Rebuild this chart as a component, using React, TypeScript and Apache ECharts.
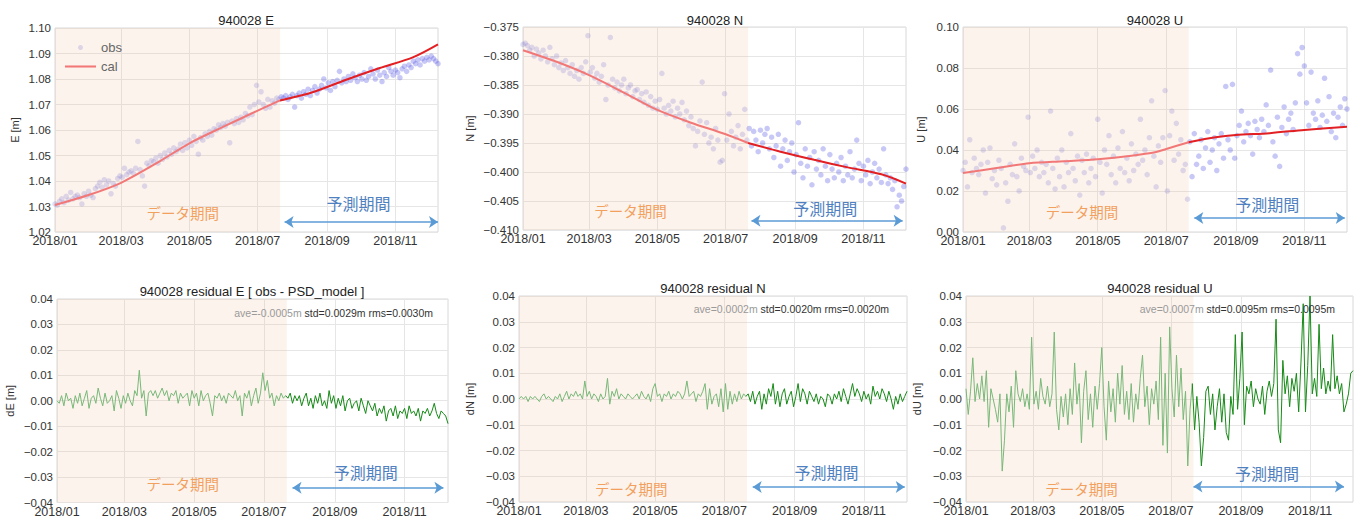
import React, { useEffect, useRef } from "react";
import * as echarts from "echarts";

// ---------- data ----------
const N_DAYS = 343; // 2018/01/01 .. 2018/12/09
const SPLIT_DAY = 201; // end of data period (2018/07/21)
const OBS_STEP = 2;
const RES_STEP = 2;

const obsE = [
  1.0310, 1.0305, 1.0320, 1.0330, 1.0315, 1.0340, 1.0325, 1.0355, 1.0330, 1.0340,
  1.0345, 1.0335, 1.0310, 1.0350, 1.0340, 1.0360, 1.0345, 1.0335, 1.0370, 1.0380,
  1.0395, 1.0375, 1.0405, 1.0385, 1.0400, 1.0350, 1.0390, 1.0380, 1.0410, 1.0420,
  1.0415, 1.0450, 1.0425, 1.0435, 1.0440, 1.0430, 1.0450, 1.0555, 1.0445, 1.0420,
  1.0380, 1.0470, 1.0460, 1.0480, 1.0475, 1.0490, 1.0470, 1.0500, 1.0485, 1.0510,
  1.0495, 1.0520, 1.0505, 1.0530, 1.0515, 1.0525, 1.0545, 1.0520, 1.0550, 1.0530,
  1.0560, 1.0540, 1.0575, 1.0555, 1.0505, 1.0570, 1.0560, 1.0585, 1.0575, 1.0595,
  1.0580, 1.0605, 1.0600, 1.0620, 1.0610, 1.0625, 1.0615, 1.0630, 1.0550, 1.0635,
  1.0625, 1.0645, 1.0630, 1.0650, 1.0640, 1.0665, 1.0655, 1.0690, 1.0660, 1.0700,
  1.0775, 1.0710, 1.0750, 1.0700, 1.0685, 1.0720, 1.0690, 1.0715, 1.0705, 1.0725,
  1.0720,
  1.0730, 1.0725, 1.0735, 1.0720, 1.0730, 1.0740, 1.0690, 1.0735, 1.0745, 1.0725,
  1.0750, 1.0740, 1.0760, 1.0735, 1.0755, 1.0770, 1.0745, 1.0760, 1.0775, 1.0800,
  1.0765, 1.0785, 1.0755, 1.0790, 1.0770, 1.0795, 1.0830, 1.0785, 1.0800, 1.0790,
  1.0810, 1.0795, 1.0820, 1.0805, 1.0790, 1.0815, 1.0800, 1.0825, 1.0795, 1.0810,
  1.0840, 1.0820, 1.0800, 1.0835, 1.0815, 1.0790, 1.0825, 1.0810, 1.0845, 1.0830,
  1.0815, 1.0835, 1.0825, 1.0805, 1.0840, 1.0850, 1.0830, 1.0855, 1.0845, 1.0870,
  1.0860, 1.0875, 1.0855, 1.0880, 1.0870, 1.0885, 1.0875, 1.0890, 1.0880, 1.0870,
  1.0860,
];

const obsN = [
  -0.3780, -0.3778, -0.3782, -0.3790, -0.3785, -0.3800, -0.3788, -0.3795, -0.3805, -0.3790,
  -0.3800, -0.3810, -0.3785, -0.3805, -0.3815, -0.3800, -0.3820, -0.3812, -0.3825, -0.3808,
  -0.3820, -0.3830, -0.3815, -0.3835, -0.3825, -0.3840, -0.3820, -0.3830, -0.3810, -0.3765,
  -0.3828, -0.3820, -0.3838, -0.3830, -0.3845, -0.3835, -0.3815, -0.3875, -0.3850, -0.3768,
  -0.3840, -0.3855, -0.3845, -0.3860, -0.3850, -0.3840, -0.3865, -0.3855, -0.3850, -0.3870,
  -0.3860, -0.3858, -0.3875, -0.3865, -0.3880, -0.3862, -0.3885, -0.3870, -0.3890, -0.3878,
  -0.3892, -0.3875, -0.3830, -0.3890, -0.3900, -0.3885, -0.3895, -0.3878, -0.3905, -0.3890,
  -0.3900, -0.3880, -0.3910, -0.3895, -0.3920, -0.3905, -0.3925, -0.3955, -0.3930, -0.3912,
  -0.3845, -0.3935, -0.3915, -0.3950, -0.3940, -0.3960, -0.3925, -0.3945, -0.3983, -0.3980,
  -0.3865, -0.3945, -0.3900, -0.3930, -0.3955, -0.3940, -0.3920, -0.3960, -0.3935, -0.3892,
  -0.3945,
  -0.3925, -0.3955, -0.3930, -0.3945, -0.3965, -0.3928, -0.3950, -0.3935, -0.3925, -0.3960,
  -0.3940, -0.3975, -0.3955, -0.3935, -0.3990, -0.3960, -0.3945, -0.3980, -0.3965, -0.3950,
  -0.4000, -0.3970, -0.3915, -0.3985, -0.4010, -0.3960, -0.3990, -0.3975, -0.4022, -0.3965,
  -0.3995, -0.3980, -0.4005, -0.3960, -0.3990, -0.4015, -0.3970, -0.3995, -0.4010, -0.3985,
  -0.4000, -0.3975, -0.4015, -0.3990, -0.4005, -0.3965, -0.4010, -0.3995, -0.3945, -0.3985,
  -0.4015, -0.3990, -0.4005, -0.3980, -0.4020, -0.4000, -0.3985, -0.4010, -0.3995, -0.4018,
  -0.3960, -0.4005, -0.4020, -0.4010, -0.4030, -0.4015, -0.4060, -0.4040, -0.4050, -0.4025,
  -0.3995,
];

const obsU = [
  0.030, 0.034, 0.022, 0.045, 0.029, 0.036, 0.031, 0.028, 0.033, 0.040,
  0.019, 0.034, 0.041, 0.026, 0.030, 0.023, 0.035, 0.031, 0.002, 0.024,
  0.015, 0.033, 0.028, 0.043, 0.027, 0.020, 0.036, 0.032, 0.030, 0.056,
  0.029, 0.037, 0.031, 0.040, 0.027, 0.034, 0.029, 0.033, 0.024, 0.059,
  0.031, 0.021, 0.036, 0.027, 0.040, 0.022, 0.034, 0.029, 0.048, 0.031,
  0.025, 0.037, 0.018, 0.035, 0.029, 0.038, 0.024, 0.031, 0.036, 0.027,
  0.055, 0.034, 0.019, 0.040, 0.033, 0.047, 0.028, 0.037, 0.024, 0.041,
  0.031, 0.049, 0.029, 0.036, 0.025, 0.043, 0.030, 0.038, 0.033, 0.055,
  0.035, 0.040, 0.028, 0.046, 0.064, 0.037, 0.022, 0.042, 0.034, 0.046,
  0.069, 0.020, 0.047, 0.059, 0.035, 0.053, 0.038, 0.045, 0.030, 0.033,
  0.016,
  0.044, 0.027, 0.048, 0.033, 0.037, 0.045, 0.031, 0.041, 0.049, 0.034,
  0.040, 0.046, 0.030, 0.043, 0.048, 0.036, 0.071, 0.045, 0.040, 0.072,
  0.036, 0.047, 0.052, 0.059, 0.044, 0.049, 0.053, 0.047, 0.038, 0.054,
  0.050, 0.046, 0.055, 0.049, 0.062, 0.052, 0.079, 0.044, 0.037, 0.056,
  0.032, 0.051, 0.061, 0.048, 0.055, 0.058, 0.050, 0.063, 0.087, 0.077,
  0.090, 0.081, 0.063, 0.052, 0.078, 0.058, 0.055, 0.064, 0.051, 0.057,
  0.075, 0.054, 0.066, 0.049, 0.058, 0.046, 0.056, 0.061, 0.052, 0.065,
  0.060,
];

const calDaysE = [0, 30, 59, 90, 120, 150, 181, 201, 230, 260, 290, 320, 342];
const calE = [1.0306, 1.0345, 1.0393, 1.0468, 1.0548, 1.0612, 1.0676, 1.0716, 1.0748, 1.0797, 1.0843, 1.0886, 1.0936];
const calDaysN = [0, 30, 59, 90, 120, 150, 181, 201, 230, 260, 290, 320, 342];
const calN = [-0.3790, -0.3810, -0.3833, -0.3863, -0.3893, -0.3915, -0.3935, -0.3950, -0.3965, -0.3979, -0.3992, -0.4004, -0.4020];
const calDaysU = [0, 30, 59, 90, 120, 150, 172, 181, 201, 225, 243, 273, 304, 342];
const calU = [0.0288, 0.0312, 0.0335, 0.0345, 0.0355, 0.0372, 0.0390, 0.0405, 0.0438, 0.0462, 0.0473, 0.0482, 0.0498, 0.0514];

const resE = [
  0.000, -0.001, 0.002, -0.002, 0.003, 0.000, 0.001, -0.003, 0.002, -0.001,
  0.003, -0.002, 0.001, 0.004, -0.003, 0.001, 0.002, -0.001, 0.005, 0.001,
  -0.002, 0.003, -0.001, 0.000, 0.002, -0.004, 0.004, 0.001, -0.003, 0.002,
  -0.001, 0.003, 0.000, -0.002, 0.004, 0.002, 0.012, 0.001, 0.004, -0.006,
  0.003, 0.004, 0.002, 0.004, 0.001, 0.003, 0.005, 0.002, 0.004, 0.000,
  0.003, 0.002, 0.004, -0.001, 0.003, 0.001, 0.002, 0.003, -0.002, 0.004,
  0.001, 0.003, -0.002, 0.004, 0.000, 0.002, 0.003, -0.001, -0.006, 0.002,
  0.001, 0.003, 0.000, 0.002, -0.001, 0.003, 0.002, 0.001, 0.004, 0.000,
  0.002, -0.006, 0.003, 0.001, 0.004, -0.002, 0.002, 0.005, -0.001, 0.003,
  0.011, 0.004, 0.008, 0.001, 0.003, -0.002, 0.002, 0.000, 0.003, 0.001,
  0.002,
  0.001, 0.003, -0.001, 0.002, 0.000, 0.002, -0.002, 0.001, 0.003, -0.002,
  0.001, -0.003, 0.002, -0.001, 0.003, -0.002, 0.000, -0.003, 0.004, -0.001,
  0.002, -0.003, 0.001, -0.002, 0.002, -0.004, 0.000, 0.001, -0.003, -0.001,
  0.000, -0.004, 0.001, -0.002, -0.005, 0.000, -0.002, -0.004, -0.001, -0.006,
  -0.003, -0.005, -0.002, -0.008, -0.004, -0.003, -0.006, -0.002, -0.007, -0.004,
  -0.005, -0.003, -0.007, -0.002, -0.005, -0.004, -0.006, -0.003, -0.008, -0.004,
  -0.005, -0.003, -0.006, -0.004, -0.001, -0.005, -0.007, -0.004, -0.005, -0.006,
  -0.009,
];

const resN = [
  0.000, 0.001, 0.000, 0.001, -0.001, 0.001, 0.000, 0.001, 0.000, -0.001,
  0.001, 0.002, 0.000, 0.001, 0.000, -0.001, 0.001, 0.000, 0.002, -0.001,
  0.001, 0.003, 0.000, 0.002, 0.001, 0.003, 0.001, 0.002, 0.000, 0.007,
  0.001, 0.003, 0.000, 0.002, 0.001, -0.001, 0.002, 0.000, 0.001, 0.008,
  -0.002, 0.003, 0.001, 0.004, 0.000, 0.002, 0.001, 0.000, 0.002, 0.001,
  0.000, 0.001, 0.002, 0.000, 0.003, 0.001, 0.000, 0.002, -0.001, 0.004,
  0.006, 0.001, 0.002, -0.001, 0.002, 0.001, 0.003, 0.000, 0.002, 0.001,
  0.003, 0.002, 0.000, 0.002, 0.007, 0.001, 0.002, 0.003, -0.001, 0.002,
  0.001, 0.003, 0.006, -0.004, 0.004, -0.002, 0.001, 0.002, -0.003, 0.004,
  -0.005, 0.006, -0.004, 0.003, -0.002, 0.002, -0.001, 0.003, 0.000, 0.002,
  0.001,
  0.002, -0.001, 0.003, -0.002, 0.001, 0.003, -0.004, 0.002, -0.002, 0.004,
  0.001, 0.006, -0.002, 0.003, -0.003, 0.002, 0.004, -0.002, 0.001, 0.003,
  -0.003, 0.001, 0.006, -0.001, 0.004, 0.002, -0.002, 0.003, 0.001, -0.001,
  0.002, -0.002, 0.001, 0.000, -0.003, 0.002, 0.001, -0.002, 0.002, 0.000,
  0.003, -0.001, 0.004, 0.001, -0.002, 0.002, 0.006, 0.001, 0.004, 0.002,
  -0.001, 0.003, 0.000, 0.002, -0.002, 0.005, 0.001, 0.003, 0.000, 0.004,
  0.002, -0.001, 0.003, 0.000, -0.004, 0.001, -0.002, 0.002, -0.001, 0.001,
  0.003,
];

const resU = [
  0.004, -0.006, 0.003, 0.016, -0.001, 0.006, 0.000, 0.009, -0.001, 0.011,
  -0.011, 0.004, 0.000, -0.004, -0.009, 0.002, -0.028, -0.016, 0.002, -0.005,
  0.005, -0.011, 0.011, 0.002, -0.001, 0.004, -0.003, 0.002, -0.004, 0.024,
  -0.002, 0.003, -0.004, 0.008, 0.001, -0.002, 0.005, -0.003, 0.002, 0.026,
  -0.004, -0.012, 0.001, -0.007, 0.002, -0.010, 0.004, -0.006, 0.014, -0.002,
  0.006, -0.017, 0.003, 0.011, -0.008, 0.002, -0.011, 0.005, -0.004, 0.006,
  0.020, -0.003, -0.016, 0.007, -0.005, 0.004, -0.009, 0.010, -0.002, 0.013,
  -0.006, 0.003, -0.008, 0.006, -0.009, 0.002, -0.004, 0.008, 0.017, -0.003,
  0.005, -0.010, 0.004, -0.002, 0.007, -0.008, 0.024, -0.018, 0.010, -0.021,
  0.028, 0.004, -0.007, 0.017, -0.003, 0.012, -0.008, 0.003, -0.026, -0.004,
  0.006,
  -0.012, 0.001, -0.009, -0.026, -0.015, 0.003, 0.005, -0.006, 0.002, -0.012,
  -0.003, 0.004, -0.009, 0.002, -0.013, -0.016, 0.001, -0.006, 0.025, -0.004,
  0.008, 0.026, -0.010, 0.005, 0.002, 0.007, -0.003, 0.004, 0.000, -0.002,
  0.005, -0.006, 0.003, 0.007, 0.001, 0.006, 0.031, -0.012, -0.017, 0.015,
  0.002, 0.009, -0.003, 0.008, 0.003, 0.010, -0.005, 0.014, 0.037, -0.005,
  0.013, 0.040, 0.002, 0.008, 0.001, 0.029, 0.004, 0.012, 0.002, 0.007,
  0.003, 0.025, 0.004, 0.009, 0.002, 0.006, -0.005, -0.002, 0.002, 0.010,
  0.011,
];

const statAve = ["ave=-0.0005m", "ave=0.0002m", "ave=0.0007m"];
const statRest = [" std=0.0029m rms=0.0030m", " std=0.0020m rms=0.0020m", " std=0.0095m rms=0.0095m"];

const titles = [
  "940028 E",
  "940028 N",
  "940028 U",
  "940028 residual E [ obs - PSD_model ]",
  "940028 residual N",
  "940028 residual U",
];
const yNames = ["E [m]", "N [m]", "U [m]", "dE [m]", "dN [m]", "dU [m]"];
const DATA_LABEL = "データ期間";
const PRED_LABEL = "予測期間";

// ---------- layout / style ----------
const FONT = '"Liberation Sans", Arial, "Noto Sans CJK JP", sans-serif';
const CJK = '"Noto Sans CJK JP", "Liberation Sans", sans-serif';

const panels = [
  { grid: { left: 55, top: 28, width: 383, height: 204 }, min: 1.02, max: 1.1, interval: 0.01, dec: 2, nameGap: 35, tcx: 246, tcy: 20,
    dataTxt: [114, 1.0278], predTxt: [271, 1.0314], arrow: [205, 342, 1.0239] },
  { grid: { left: 523, top: 27, width: 383, height: 203 }, min: -0.41, max: -0.375, interval: 0.005, dec: 3, nameGap: 48, tcx: 715, tcy: 20,
    dataTxt: [96, -0.4067], predTxt: [270, -0.4062], arrow: [204, 339, -0.4084] },
  { grid: { left: 963, top: 27, width: 384, height: 205 }, min: 0, max: 0.1, interval: 0.02, dec: 2, nameGap: 37, tcx: 1155, tcy: 20,
    dataTxt: [106, 0.0102], predTxt: [271, 0.0137], arrow: [206, 340, 0.0068] },
  { grid: { left: 57, top: 299, width: 391, height: 208 }, min: -0.04, max: 0.04, interval: 0.01, dec: 2, nameGap: 42, tcx: 252, tcy: 291,
    dataTxt: [110, -0.0327], predTxt: [270, -0.0281], arrow: [206, 338, -0.0342] },
  { grid: { left: 519, top: 296, width: 388, height: 206 }, min: -0.04, max: 0.04, interval: 0.01, dec: 2, nameGap: 44, tcx: 713, tcy: 288,
    dataTxt: [99, -0.0346], predTxt: [271, -0.0283], arrow: [206, 340, -0.0342] },
  { grid: { left: 966, top: 296, width: 387, height: 206 }, min: -0.04, max: 0.04, interval: 0.01, dec: 2, nameGap: 44, tcx: 1160, tcy: 288,
    dataTxt: [102, -0.0346], predTxt: [266, -0.0287], arrow: [201, 334, -0.034] },
];
const statPos = [
  [433, 313],
  [889, 309],
  [1335, 309],
];

const pad = (n: number) => (n < 10 ? "0" + n : "" + n);
const cats: string[] = [];
const tickIdx = new Set<number>();
for (let i = 0; i < N_DAYS; i++) {
  const d = new Date(2018, 0, 1 + i);
  cats.push(`${d.getFullYear()}/${pad(d.getMonth() + 1)}/${pad(d.getDate())}`);
  if (d.getDate() === 1 && d.getMonth() % 2 === 0) tickIdx.add(i);
}
const isTick = (i: number) => tickIdx.has(i);

const pairs = (days: number[], vals: number[]) => days.map((d, i) => [d, vals[i]] as [number, number]);
const gridDays = (n: number, step: number) => Array.from({ length: n }, (_, i) => i * step);

function splitLine(pts: [number, number][]) {
  const before = pts.filter((p) => p[0] <= SPLIT_DAY);
  const lastBefore = before[before.length - 1][0];
  const after = pts.filter((p) => p[0] >= lastBefore);
  return [before, after];
}
function splitScatter(pts: [number, number][]) {
  return [pts.filter((p) => p[0] <= SPLIT_DAY), pts.filter((p) => p[0] > SPLIT_DAY)];
}

function buildOption() {
  const grid: any[] = [];
  const xAxis: any[] = [];
  const yAxis: any[] = [];
  const series: any[] = [];
  const graphic: any[] = [];

  panels.forEach((p, gi) => {
    grid.push({ ...p.grid, show: true, borderColor: "#d8d8d8", borderWidth: 1, backgroundColor: "transparent" });
    xAxis.push({
      type: "category",
      gridIndex: gi,
      data: cats,
      boundaryGap: false,
      axisLine: { show: false },
      axisTick: { show: false },
      axisLabel: {
        interval: (i: number) => isTick(i),
        formatter: (v: string) => v.slice(0, 7),
        color: "#333",
        fontSize: 12.5,
        fontFamily: FONT,
        margin: 3,
      },
      splitLine: { show: true, interval: (i: number) => isTick(i), lineStyle: { color: "#e6e6e6", width: 1 } },
    });
    yAxis.push({
      type: "value",
      gridIndex: gi,
      min: p.min,
      max: p.max,
      interval: p.interval,
      name: yNames[gi],
      nameLocation: "middle",
      nameGap: p.nameGap,
      nameTextStyle: { color: "#333", fontSize: 11, fontFamily: FONT },
      axisLine: { show: false },
      axisTick: { show: false },
      axisLabel: {
        color: "#333",
        fontSize: 11.5,
        fontFamily: FONT,
        margin: 4,
        formatter: (v: number) => v.toFixed(p.dec).replace("-", "\u2212"),
      },
      splitLine: { show: true, lineStyle: { color: "#e6e6e6", width: 1 } },
    });

    // shading + annotations
    series.push({
      type: "line",
      name: "annot" + gi,
      xAxisIndex: gi,
      yAxisIndex: gi,
      data: [],
      z: 1,
      silent: true,
      markArea: {
        silent: true,
        itemStyle: { color: "rgba(240,185,145,0.17)" },
        data: [[{ xAxis: cats[0] }, { xAxis: cats[SPLIT_DAY] }]],
      },
      markPoint: {
        silent: true,
        symbol: "rect",
        symbolSize: 1,
        itemStyle: { color: "rgba(0,0,0,0)" },
        data: [
          {
            coord: [cats[p.dataTxt[0]], p.dataTxt[1]],
            label: { show: true, position: "inside", formatter: DATA_LABEL, color: "#f2a05e", fontSize: 14.5, fontFamily: CJK },
          },
          {
            coord: [cats[p.predTxt[0]], p.predTxt[1]],
            label: { show: true, position: "inside", formatter: PRED_LABEL, color: "#4f81c0", fontSize: 16, fontFamily: CJK },
          },
        ],
      },
      markLine: {
        silent: true,
        symbol: ["arrow", "arrow"],
        symbolSize: 9,
        label: { show: false },
        lineStyle: { color: "#5b9bd5", width: 1.5, type: "solid" },
        data: [[{ coord: [cats[p.arrow[0]], p.arrow[2]] }, { coord: [cats[p.arrow[1]], p.arrow[2]] }]],
      },
    });

    graphic.push({
      type: "text",
      x: p.tcx,
      y: p.tcy,
      style: { text: titles[gi], fill: "#222", font: `13px ${FONT}`, align: "center", verticalAlign: "middle" },
    });
  });

  // top row: obs + cal
  const top = [
    { obs: obsE, calDays: calDaysE, cal: calE, name: "" },
    { obs: obsN, calDays: calDaysN, cal: calN, name: "N" },
    { obs: obsU, calDays: calDaysU, cal: calU, name: "U" },
  ];
  top.forEach((t, gi) => {
    const [oA, oB] = splitScatter(pairs(gridDays(t.obs.length, OBS_STEP), t.obs));
    const [cA, cB] = splitLine(pairs(t.calDays, t.cal));
    series.push({
      type: "scatter",
      name: gi === 0 ? "obs" : "obs" + t.name,
      xAxisIndex: gi,
      yAxisIndex: gi,
      data: oA,
      symbolSize: 5.5,
      itemStyle: { color: "rgba(125,115,210,0.30)" },
      z: 3,
    });
    series.push({
      type: "scatter",
      name: "obsP" + gi,
      xAxisIndex: gi,
      yAxisIndex: gi,
      data: oB,
      symbolSize: 5.5,
      itemStyle: { color: "rgba(75,75,225,0.38)" },
      z: 3,
    });
    series.push({
      type: "line",
      name: gi === 0 ? "cal" : "cal" + t.name,
      xAxisIndex: gi,
      yAxisIndex: gi,
      data: cA,
      showSymbol: false,
      symbol: "none",
      smooth: 0.3,
      lineStyle: { color: "#f27878", width: 2 },
      itemStyle: { color: "#f27878" },
      z: 4,
    });
    series.push({
      type: "line",
      name: "calP" + gi,
      xAxisIndex: gi,
      yAxisIndex: gi,
      data: cB,
      showSymbol: false,
      symbol: "none",
      smooth: 0.3,
      lineStyle: { color: "#e21f22", width: 2 },
      z: 4,
    });
  });

  // bottom row: residuals
  [resE, resN, resU].forEach((r, k) => {
    const gi = k + 3;
    const [a, b] = splitLine(pairs(gridDays(r.length, RES_STEP), r));
    series.push({
      type: "line",
      name: "resD" + k,
      xAxisIndex: gi,
      yAxisIndex: gi,
      data: a,
      showSymbol: false,
      symbol: "none",
      lineStyle: { color: "#78b878", width: 1 },
      z: 3,
    });
    series.push({
      type: "line",
      name: "resP" + k,
      xAxisIndex: gi,
      yAxisIndex: gi,
      data: b,
      showSymbol: false,
      symbol: "none",
      lineStyle: { color: "#168a16", width: 1 },
      z: 3,
    });
    graphic.push({
      type: "text",
      x: statPos[k][0],
      y: statPos[k][1],
      z: 10,
      style: {
        text: `{a|${statAve[k]}}{b|${statRest[k]}}`,
        align: "right",
        verticalAlign: "middle",
        font: `10.5px ${FONT}`,
        rich: {
          a: { fill: "#9a9a9a", fontSize: 10.5, fontFamily: FONT },
          b: { fill: "#333", fontSize: 10.5, fontFamily: FONT },
        },
      },
    });
  });

  return {
    animation: false,
    backgroundColor: "#ffffff",
    grid,
    xAxis,
    yAxis,
    series,
    graphic,
    legend: {
      data: [
        { name: "obs", icon: "circle" },
        { name: "cal", icon: "path://M0,0 L30,0 L30,2 L0,2 Z" },
      ],
      orient: "vertical",
      left: 60,
      top: 36,
      itemWidth: 31,
      itemHeight: 5,
      itemGap: 6,
      selectedMode: false,
      textStyle: { color: "#666", fontSize: 13, fontFamily: FONT },
    },
  };
}

export default function App() {
  const ref = useRef<HTMLDivElement>(null);
  useEffect(() => {
    if (!ref.current) return;
    const chart = echarts.init(ref.current, undefined, { renderer: "svg" });
    chart.setOption(buildOption() as any);
    return () => chart.dispose();
  }, []);
  return (
    <div
      ref={ref}
      style={{ position: "fixed", left: 0, top: 0, width: 1359, height: 518, background: "#fff" }}
    />
  );
}
